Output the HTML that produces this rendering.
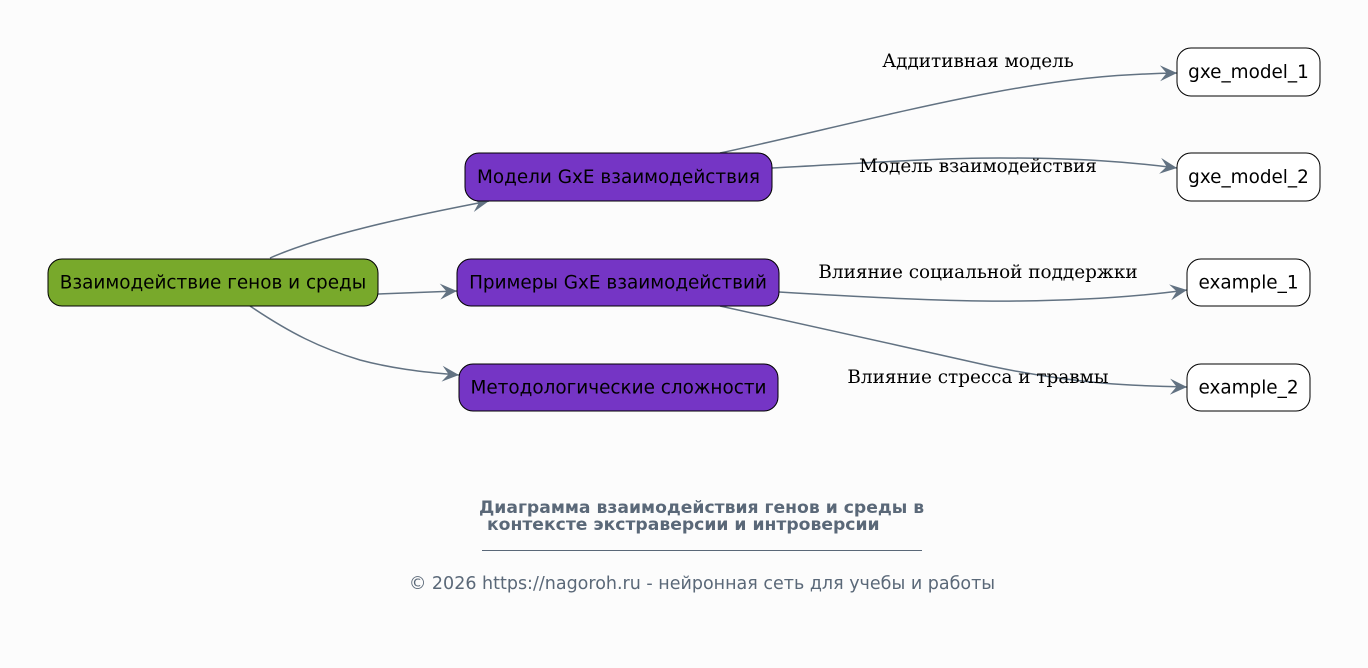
<!DOCTYPE html>
<html><head><meta charset="utf-8">
<style>
html,body{margin:0;padding:0;background:#fcfcfc;}
svg{display:block;}
.n{font-family:"DejaVu Sans","Liberation Sans",sans-serif;font-size:18.4px;fill:#000;}
.l{font-family:"DejaVu Serif","Liberation Serif",serif;font-size:18.4px;fill:#000;}
.e{fill:none;stroke:#627282;stroke-width:1.5;}
</style></head>
<body>
<svg width="1368" height="668" viewBox="0 0 1368 668" xmlns="http://www.w3.org/2000/svg">
<rect x="0" y="0" width="1368" height="668" fill="#fcfcfc"/>
<defs>
<marker id="ar" markerWidth="18" markerHeight="18" refX="17" refY="8" orient="auto" markerUnits="userSpaceOnUse">
<path d="M0,0 L17,8 L0,16 L6.5,8 Z" fill="#627282"/>
</marker>
</defs>

<!-- edges -->
<path class="e" marker-end="url(#ar)" d="M270,258 C320,236 400,218 489,201"/>
<path class="e" marker-end="url(#ar)" d="M378,294 C405,293 430,292 457,291"/>
<path class="e" marker-end="url(#ar)" d="M250,306 C290,333 320,348 360,360 C390,368 420,372 459,375"/>
<path class="e" marker-end="url(#ar)" d="M720,153 C800,136 900,110 990,93 C1070,78 1120,74 1177,73"/>
<path class="e" marker-end="url(#ar)" d="M772,168 C850,164 930,158 1000,158 C1080,158 1130,162 1177,168"/>
<path class="e" marker-end="url(#ar)" d="M779,292 C880,298 960,302 1020,301 C1100,300 1150,295 1187,290"/>
<path class="e" marker-end="url(#ar)" d="M720,306 C800,323 900,346 990,366 C1080,385 1140,386 1187,387"/>

<!-- nodes -->
<rect x="48" y="259" width="330" height="47" rx="14" ry="14" fill="#78a92b" stroke="#000" stroke-width="1"/>
<text class="n" x="213" y="288.5" text-anchor="middle">Взаимодействие генов и среды</text>

<rect x="465" y="153" width="307" height="48" rx="14" ry="14" fill="#7535c5" stroke="#000" stroke-width="1"/>
<text class="n" x="618.5" y="183" text-anchor="middle">Модели GxE взаимодействия</text>

<rect x="457" y="259" width="322" height="47" rx="14" ry="14" fill="#7535c5" stroke="#000" stroke-width="1"/>
<text class="n" x="618" y="288.5" text-anchor="middle">Примеры GxE взаимодействий</text>

<rect x="459" y="364" width="319" height="47" rx="14" ry="14" fill="#7535c5" stroke="#000" stroke-width="1"/>
<text class="n" x="618.5" y="393.5" text-anchor="middle">Методологические сложности</text>

<rect x="1177" y="48" width="143" height="48" rx="14" ry="14" fill="#fff" stroke="#000" stroke-width="1"/>
<text class="n" x="1248.5" y="78" text-anchor="middle">gxe_model_1</text>

<rect x="1177" y="153" width="143" height="48" rx="14" ry="14" fill="#fff" stroke="#000" stroke-width="1"/>
<text class="n" x="1248.5" y="183" text-anchor="middle">gxe_model_2</text>

<rect x="1187" y="259" width="123" height="47" rx="14" ry="14" fill="#fff" stroke="#000" stroke-width="1"/>
<text class="n" x="1248.5" y="288.5" text-anchor="middle">example_1</text>

<rect x="1187" y="364" width="123" height="47" rx="14" ry="14" fill="#fff" stroke="#000" stroke-width="1"/>
<text class="n" x="1248.5" y="393.5" text-anchor="middle">example_2</text>

<!-- edge labels -->
<text class="l" x="978" y="67" text-anchor="middle">Аддитивная модель</text>
<text class="l" x="978" y="172" text-anchor="middle">Модель взаимодействия</text>
<text class="l" x="978" y="278" text-anchor="middle">Влияние социальной поддержки</text>
<text class="l" x="978" y="383" text-anchor="middle">Влияние стресса и травмы</text>

<!-- footer -->
<text x="479" y="513" font-family="DejaVu Sans, Liberation Sans, sans-serif" font-size="17.2" font-weight="bold" fill="#5a6878">Диаграмма взаимодействия генов и среды в</text>
<text x="487" y="530" font-family="DejaVu Sans, Liberation Sans, sans-serif" font-size="17.2" font-weight="bold" fill="#5a6878">контексте экстраверсии и интроверсии</text>
<line x1="482" y1="550.5" x2="922" y2="550.5" stroke="#5a6878" stroke-width="1"/>
<text x="702" y="589" text-anchor="middle" font-family="DejaVu Sans, Liberation Sans, sans-serif" font-size="17.5" fill="#5a6878">© 2026 https://nagoroh.ru - нейронная сеть для учебы и работы</text>
</svg>
</body></html>
